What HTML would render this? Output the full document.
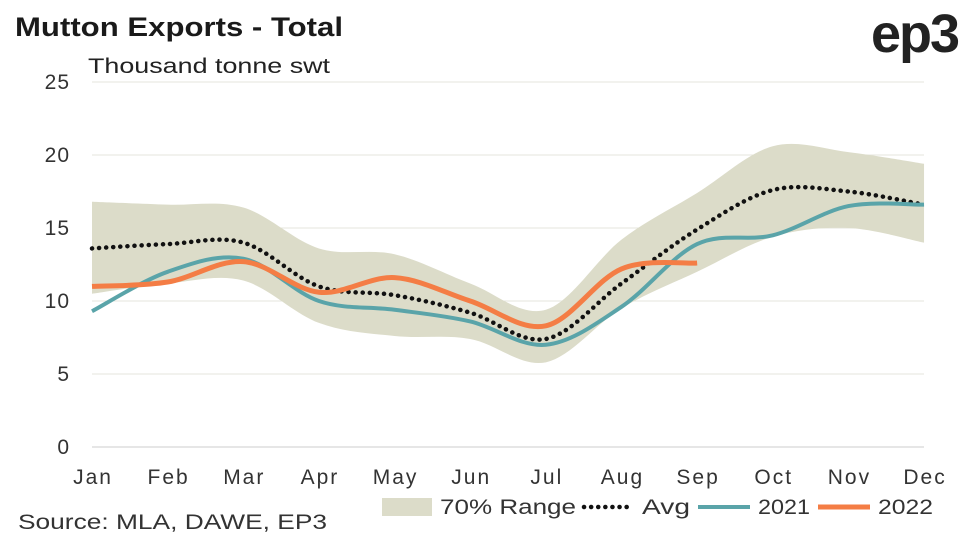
<!DOCTYPE html>
<html><head><meta charset="utf-8"><style>
body{margin:0;background:#fff;}
svg{display:block;font-family:"Liberation Sans",sans-serif;}
</style></head><body>
<svg id="s" width="962" height="541" viewBox="0 0 962 541">
<text x="15" y="36" font-size="27" font-weight="bold" fill="#1a1a1a" textLength="328" lengthAdjust="spacingAndGlyphs">Mutton Exports - Total</text>
<text x="958" y="52" font-size="54" font-weight="bold" fill="#222" text-anchor="end" letter-spacing="-2">ep3</text>
<text x="88" y="73" font-size="21" fill="#222" textLength="242" lengthAdjust="spacingAndGlyphs">Thousand tonne swt</text>
<g stroke="#e6e6dc" stroke-width="1">
<line x1="92" x2="924" y1="82" y2="82"/><line x1="92" x2="924" y1="155" y2="155"/>
<line x1="92" x2="924" y1="228" y2="228"/><line x1="92" x2="924" y1="301" y2="301"/>
<line x1="92" x2="924" y1="374" y2="374"/></g>
<line x1="92" x2="924" y1="447" y2="447" stroke="#ccc"/>
<g font-size="21" fill="#333" text-anchor="end" letter-spacing="1">
<text x="70" y="89">25</text><text x="70" y="162">20</text><text x="70" y="235">15</text>
<text x="70" y="308">10</text><text x="70" y="381">5</text><text x="70" y="454">0</text></g>
<g id="xl" font-size="21" fill="#333" text-anchor="middle" letter-spacing="2"></g>
<path id="band" fill="#dcdcc9"/>
<path id="avg" fill="none" stroke="#111" stroke-width="4.5" stroke-dasharray="0.1 7" stroke-linecap="round"/>
<path id="l21" fill="none" stroke="#5aa4a9" stroke-width="4"/>
<path id="l22" fill="none" stroke="#f47d45" stroke-width="5"/>
<rect x="382" y="498" width="50" height="18" fill="#dcdcc9"/>
<text x="440" y="514" font-size="21" fill="#333" textLength="136" lengthAdjust="spacingAndGlyphs">70% Range</text>
<line x1="584" x2="632" y1="507" y2="507" stroke="#111" stroke-width="4.5" stroke-dasharray="0.1 7" stroke-linecap="round"/>
<text x="642" y="514" font-size="21" fill="#333" textLength="48" lengthAdjust="spacingAndGlyphs">Avg</text>
<line x1="698" x2="750" y1="507" y2="507" stroke="#5aa4a9" stroke-width="4"/>
<text x="758" y="514" font-size="21" fill="#333" textLength="52" lengthAdjust="spacingAndGlyphs">2021</text>
<line x1="818" x2="870" y1="507" y2="507" stroke="#f47d45" stroke-width="5"/>
<text x="878" y="514" font-size="21" fill="#333" textLength="55" lengthAdjust="spacingAndGlyphs">2022</text>
<text x="18" y="529" font-size="21" fill="#333" textLength="309" lengthAdjust="spacingAndGlyphs">Source: MLA, DAWE, EP3</text>
</svg>
<script>
var X=i=>92+i*75.64, Y=v=>447-v*14.6;
var m=["Jan","Feb","Mar","Apr","May","Jun","Jul","Aug","Sep","Oct","Nov","Dec"];
var xl=document.getElementById("xl");
m.forEach((t,i)=>{var e=document.createElementNS("http://www.w3.org/2000/svg","text");e.setAttribute("x",X(i)+1);e.setAttribute("y",484);e.textContent=t;xl.appendChild(e);});
function pts(a){return a.map((v,i)=>[X(i),Y(v)]);}
function cr(p,move){var d=move?"M"+p[0][0]+","+p[0][1]:"L"+p[0][0]+","+p[0][1];
for(var i=0;i<p.length-1;i++){var p0=p[i-1]||p[i],p1=p[i],p2=p[i+1],p3=p[i+2]||p2;
d+="C"+(p1[0]+(p2[0]-p0[0])/6)+","+(p1[1]+(p2[1]-p0[1])/6)+" "+(p2[0]-(p3[0]-p1[0])/6)+","+(p2[1]-(p3[1]-p1[1])/6)+" "+p2[0]+","+p2[1];}return d;}
var up=[16.8,16.6,16.4,13.6,13.2,11.2,9.4,14.2,17.4,20.6,20.2,19.4];
var lo=[10.5,11.2,11.4,8.5,7.6,7.4,5.8,9.5,12.0,14.4,15.0,14.0];
document.getElementById("band").setAttribute("d",cr(pts(up),true)+cr(pts(lo).reverse(),false)+"Z");
document.getElementById("avg").setAttribute("d",cr(pts([13.6,13.9,14.0,11.0,10.4,9.2,7.4,11.2,14.9,17.6,17.5,16.6]),true));
document.getElementById("l21").setAttribute("d",cr(pts([9.3,12.0,12.9,10.0,9.4,8.6,7.0,9.6,13.9,14.5,16.5,16.6]),true));
document.getElementById("l22").setAttribute("d",cr(pts([11.0,11.3,12.7,10.6,11.6,10.0,8.3,12.2,12.6]),true));
</script>
</body></html>
